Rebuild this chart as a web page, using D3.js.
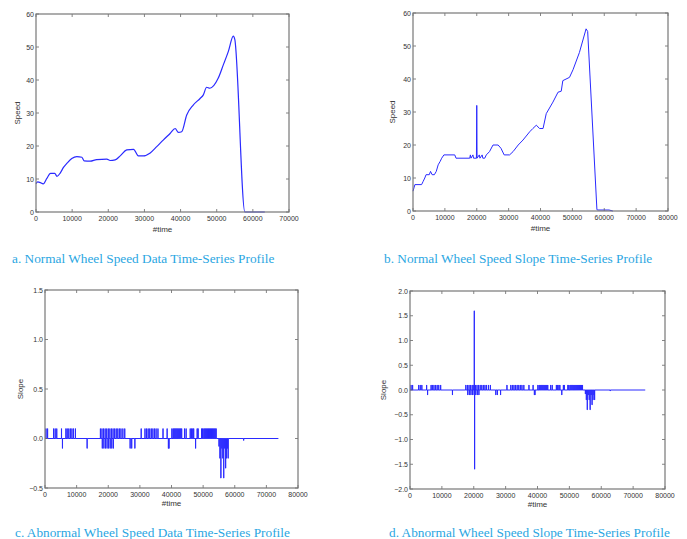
<!DOCTYPE html>
<html>
<head>
<meta charset="utf-8">
<script src="https://cdn.jsdelivr.net/npm/d3@7"></script>
<style>
  body { margin: 0; background: #fff; }
  svg { display: block; }
</style>
</head>
<body>
<svg id="chart" width="687" height="539"></svg>
<script>
// a. normal wheel speed (time, speed)
const normalSpeed = [
  [0, 8.6], [500, 9.1], [1000, 9.0], [2000, 8.5], [3000, 10.2], [4000, 11.7],
  [5200, 11.7], [5800, 10.8], [6700, 11.8], [7600, 13.5], [8600, 14.8], [9900, 16.2],
  [11300, 16.8], [12700, 16.6], [13300, 15.5], [15000, 15.4], [16800, 15.9], [19600, 16.0],
  [20500, 15.6], [21900, 15.8], [23300, 17.0], [25100, 18.8], [27000, 19.0], [28300, 17.0],
  [29700, 17.0], [31600, 17.9], [33400, 19.8], [35200, 21.8], [37100, 23.8], [38500, 25.3],
  [39400, 24.1], [40300, 24.3], [41700, 29.4], [43500, 32.4], [45400, 34.4], [46300, 35.5],
  [47200, 37.8], [48100, 37.5], [50400, 40.5], [51800, 44.5], [53200, 48.6], [54600, 53.3],
  [55000, 52.3], [57800, 0], [63300, 0]
]

// b. normal wheel speed, stepped (time, speed)
const slopeSpeed = [
  [0, 6], [300, 7], [600, 8], [2700, 8], [3200, 9], [3700, 10], [4100, 11], [5100, 11],
  [5500, 12], [6000, 11], [6700, 11], [7300, 12], [7900, 14], [8500, 15], [9000, 16],
  [9700, 17], [13100, 17], [13500, 16], [17800, 16], [18000, 17], [18200, 16], [18800, 17],
  [19000, 16], [19900, 16], [20000, 32], [20100, 16], [20800, 17], [21000, 16], [21700, 17],
  [21900, 16], [22500, 16], [23000, 17], [24000, 18], [25100, 20], [26700, 20], [27600, 19],
  [28600, 17], [30300, 17], [31400, 18], [33000, 20], [34500, 21.5], [36600, 24], [37600, 25],
  [38700, 26], [39700, 25], [40800, 25], [41800, 29.5], [43900, 33], [45500, 36], [46500, 36.3],
  [47000, 39.5], [49100, 40.5], [50200, 42.8], [52200, 48], [54300, 55.2], [54800, 54.4],
  [57700, 0.4], [58000, 0.3], [61500, 0.3], [62700, 0]
]

// c/d. slope pulses (time, slope)
const slopeUp = [
  300, 800, 2700, 3200, 3700, 5200, 6600, 7000, 7500, 8000, 8500, 9000, 9600,
  17500, 18000, 18500, 19000, 19500, 20000, 20500, 21000, 21500, 22000, 22500, 23000,
  23500, 24000, 24600, 25200, 30400, 31600, 32100, 32600, 33100, 33600, 34100, 34600,
  35100, 35700, 37300, 38600, 40100, 40500, 40800, 41100, 41400, 41700, 42000, 42300,
  42600, 42900, 43200, 44100, 44600, 45900, 46300, 46700, 47000, 48100, 48400, 49500,
  49800, 50200, 50500, 50800, 51100, 51400, 51700, 52000, 52300, 52600, 52900, 53200,
  53500, 53800, 54100
]
const slopeDown = [
  5500, 13300, 18100, 18600, 19100, 19600, 20100, 20600, 21100, 21600,
  26900, 27400, 28400, 39000, 39200, 47600
]
const brakeDips = [
  [55000, -0.08], [55300, -0.2], [55600, -0.4], [55900, -0.1], [56200, -0.2],
  [56500, -0.4], [56800, -0.1], [57100, -0.3], [57400, -0.2], [57700, -0.1],
  [57900, -0.2], [62800, -0.02]
]
const faultSpike = [[20150, 1.6], [20250, -1.6]]
const slopeEnd = 73800

const captions = [
  'a. Normal Wheel Speed Data Time-Series Profile',
  'b. Normal Wheel Speed Slope Time-Series Profile',
  'c. Abnormal Wheel Speed Data Time-Series Profile',
  'd. Abnormal Wheel Speed Slope Time-Series Profile'
]

const svg = d3.select('#chart')

function pulses(list, extra) {
  const pts = list.concat(extra || []).sort((a, b) => a[0] - b[0])
  const out = [[0, 0]]
  pts.forEach(function(p) {
    out.push([p[0], 0], [p[0], p[1]], [p[0] + 40, p[1]], [p[0] + 40, 0])
  })
  out.push([slopeEnd, 0])
  return out
}

const slopeBase = slopeUp.map(t => [t, 0.1])
  .concat(slopeDown.map(t => [t, -0.1]))
  .concat(brakeDips)

function panel(cfg) {
  const g = svg.append('g')
  const x = d3.scaleLinear().domain(cfg.xd).range([cfg.l, cfg.r])
  const y = d3.scaleLinear().domain(cfg.yd).range([cfg.b, cfg.t])

  g.append('path')
    .datum(cfg.data)
    .attr('fill', 'none')
    .attr('stroke', '#2a2aff')
    .attr('stroke-width', cfg.sw || 1)
    .attr('d', d3.line().x(d => x(d[0])).y(d => y(d[1])).curve(cfg.curve || d3.curveLinear))

  // ticks inside on all four sides
  const xt = x.ticks(cfg.xn)
  const yt = d3.range(cfg.yd[0], cfg.yd[1] + 1e-9, cfg.ystep)
  const tk = g.append('g').attr('stroke', '#666').attr('stroke-width', 0.8)
  xt.forEach(function(v) {
    tk.append('line').attr('x1', x(v)).attr('x2', x(v)).attr('y1', cfg.b).attr('y2', cfg.b - 3)
    tk.append('line').attr('x1', x(v)).attr('x2', x(v)).attr('y1', cfg.t).attr('y2', cfg.t + 3)
  })
  yt.forEach(function(v) {
    tk.append('line').attr('x1', cfg.l).attr('x2', cfg.l + 3).attr('y1', y(v)).attr('y2', y(v))
    tk.append('line').attr('x1', cfg.r).attr('x2', cfg.r - 3).attr('y1', y(v)).attr('y2', y(v))
  })

  g.append('rect')
    .attr('x', cfg.l).attr('y', cfg.t)
    .attr('width', cfg.r - cfg.l).attr('height', cfg.b - cfg.t)
    .attr('fill', 'none').attr('stroke', '#777').attr('stroke-width', 1.2)

  const txt = g.append('g')
    .attr('font-family', 'Liberation Sans, Arial, sans-serif')
    .attr('font-size', 7)
    .attr('fill', '#333')
  xt.forEach(function(v) {
    txt.append('text').attr('x', x(v)).attr('y', cfg.b + 9)
      .attr('text-anchor', 'middle').text(v)
  })
  yt.forEach(function(v) {
    txt.append('text').attr('x', cfg.l - 2).attr('y', y(v) + 2.5)
      .attr('text-anchor', 'end').text(cfg.yf(v))
  })
  txt.append('text')
    .attr('x', (cfg.l + cfg.r) / 2).attr('y', cfg.xly)
    .attr('text-anchor', 'middle').attr('font-size', 8)
    .text('#time')
  txt.append('text')
    .attr('transform', 'translate(' + cfg.ylx + ',' + (cfg.t + cfg.b) / 2 + ') rotate(-90)')
    .attr('text-anchor', 'middle').attr('font-size', 8)
    .text(cfg.ylabel)

  svg.append('text')
    .attr('x', cfg.cx).attr('y', cfg.cy)
    .attr('font-family', 'Liberation Serif, Times New Roman, serif')
    .attr('font-size', 13.3)
    .attr('fill', '#2aa6e2')
    .text(cfg.caption)
}

const fmtInt = d3.format('d')
const fmt1 = v => d3.format('.1f')(v).replace('-', '\u2212')

panel({
  l: 36, r: 289, t: 14, b: 212, xd: [0, 70000], yd: [0, 60], xn: 7, ystep: 10,
  yf: fmtInt, data: normalSpeed, curve: d3.curveMonotoneX, sw: 1.2,
  ylabel: 'Speed', ylx: 20, xly: 232, caption: captions[0], cx: 12, cy: 263
})
panel({
  l: 413, r: 668, t: 13, b: 211, xd: [0, 80000], yd: [0, 60], xn: 8, ystep: 10,
  yf: fmtInt, data: slopeSpeed,
  ylabel: 'Speed', ylx: 395, xly: 231, caption: captions[1], cx: 384, cy: 263
})
panel({
  l: 45, r: 298, t: 290, b: 488, xd: [0, 80000], yd: [-0.5, 1.5], xn: 8, ystep: 0.5,
  yf: fmt1, data: pulses(slopeBase),
  ylabel: 'Slope', ylx: 23, xly: 506, caption: captions[2], cx: 15, cy: 537
})
panel({
  l: 410, r: 665, t: 291, b: 489, xd: [0, 80000], yd: [-2, 2], xn: 8, ystep: 0.5,
  yf: fmt1, data: pulses(slopeBase, faultSpike),
  ylabel: 'Slope', ylx: 386, xly: 507, caption: captions[3], cx: 389, cy: 537
})
</script>
</body>
</html>
